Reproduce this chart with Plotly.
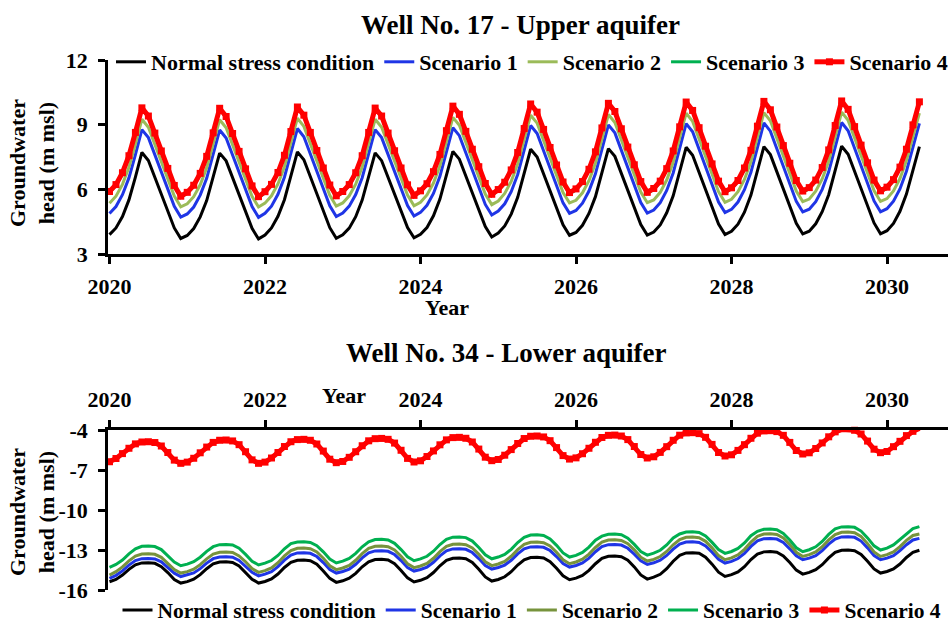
import plotly.graph_objects as go

# Monthly groundwater heads (m msl), January 2020 to June 2030

# ---- Well No. 17, upper aquifer ----
upper_normal = [
    3.90, 4.21, 4.74, 5.51, 6.57, 7.71, 7.34, 6.57, 5.76, 4.98, 4.21, 3.72,
    3.86, 4.18, 4.72, 5.48, 6.55, 7.68, 7.32, 6.55, 5.74, 4.96, 4.19, 3.70,
    3.88, 4.21, 4.75, 5.52, 6.60, 7.74, 7.37, 6.59, 5.77, 4.99, 4.22, 3.73,
    3.89, 4.20, 4.73, 5.50, 6.56, 7.69, 7.33, 6.57, 5.77, 4.99, 4.23, 3.75,
    3.91, 4.23, 4.77, 5.55, 6.63, 7.76, 7.40, 6.63, 5.82, 5.04, 4.27, 3.79,
    3.97, 4.30, 4.85, 5.63, 6.72, 7.86, 7.50, 6.72, 5.91, 5.12, 4.35, 3.87,
    4.00, 4.33, 4.88, 5.66, 6.75, 7.89, 7.53, 6.75, 5.93, 5.14, 4.37, 3.88,
    4.02, 4.35, 4.91, 5.70, 6.80, 7.95, 7.58, 6.80, 5.97, 5.17, 4.39, 3.90,
    4.05, 4.38, 4.94, 5.73, 6.83, 7.98, 7.61, 6.83, 6.00, 5.20, 4.42, 3.93,
    4.06, 4.40, 4.96, 5.75, 6.86, 8.00, 7.63, 6.85, 6.02, 5.22, 4.44, 3.94,
    4.08, 4.42, 4.98, 5.78, 6.89, 7.98,
]
upper_s1 = [
    4.88, 5.20, 5.75, 6.53, 7.61, 8.77, 8.40, 7.61, 6.79, 5.99, 5.21, 4.71,
    4.86, 5.18, 5.73, 6.51, 7.60, 8.75, 8.38, 7.60, 6.78, 5.98, 5.20, 4.70,
    4.89, 5.22, 5.77, 6.56, 7.66, 8.82, 8.44, 7.65, 6.82, 6.02, 5.24, 4.74,
    4.90, 5.22, 5.76, 6.54, 7.62, 8.77, 8.40, 7.62, 6.81, 6.02, 5.25, 4.76,
    4.93, 5.26, 5.81, 6.60, 7.70, 8.86, 8.49, 7.70, 6.88, 6.08, 5.30, 4.81,
    4.99, 5.33, 5.89, 6.69, 7.80, 8.96, 8.59, 7.79, 6.96, 6.16, 5.37, 4.89,
    5.02, 5.36, 5.92, 6.72, 7.83, 8.99, 8.62, 7.82, 6.98, 6.17, 5.39, 4.90,
    5.04, 5.38, 5.95, 6.76, 7.88, 9.05, 8.67, 7.87, 7.02, 6.21, 5.41, 4.92,
    5.07, 5.41, 5.98, 6.79, 7.91, 9.08, 8.70, 7.90, 7.05, 6.24, 5.44, 4.95,
    5.08, 5.43, 6.00, 6.81, 7.94, 9.10, 8.72, 7.92, 7.07, 6.26, 5.46, 4.96,
    5.10, 5.45, 6.02, 6.84, 7.97, 9.06,
]
upper_s2 = [
    5.35, 5.68, 6.23, 7.02, 8.10, 9.25, 8.88, 8.09, 7.27, 6.47, 5.69, 5.19,
    5.33, 5.66, 6.21, 7.00, 8.09, 9.23, 8.86, 8.08, 7.26, 6.46, 5.68, 5.18,
    5.36, 5.70, 6.25, 7.05, 8.15, 9.30, 8.92, 8.13, 7.30, 6.50, 5.72, 5.22,
    5.37, 5.70, 6.24, 7.03, 8.11, 9.25, 8.88, 8.10, 7.29, 6.50, 5.73, 5.24,
    5.40, 5.74, 6.29, 7.09, 8.19, 9.34, 8.97, 8.18, 7.36, 6.56, 5.78, 5.29,
    5.46, 5.81, 6.37, 7.18, 8.29, 9.44, 9.07, 8.27, 7.44, 6.64, 5.85, 5.37,
    5.49, 5.84, 6.40, 7.21, 8.32, 9.47, 9.10, 8.30, 7.46, 6.65, 5.87, 5.38,
    5.51, 5.86, 6.43, 7.25, 8.37, 9.53, 9.15, 8.35, 7.50, 6.69, 5.89, 5.40,
    5.54, 5.89, 6.46, 7.28, 8.40, 9.56, 9.18, 8.38, 7.53, 6.72, 5.92, 5.43,
    5.55, 5.91, 6.48, 7.30, 8.43, 9.58, 9.20, 8.40, 7.55, 6.74, 5.94, 5.44,
    5.57, 5.93, 6.50, 7.33, 8.46, 9.54,
]
upper_s3 = [
    5.85, 6.17, 6.72, 7.51, 8.59, 9.73, 9.35, 8.56, 7.73, 6.92, 6.13, 5.63,
    5.81, 6.14, 6.69, 7.48, 8.57, 9.71, 9.33, 8.54, 7.71, 6.90, 6.11, 5.61,
    5.84, 6.18, 6.73, 7.53, 8.63, 9.77, 9.39, 8.59, 7.75, 6.94, 6.15, 5.65,
    5.85, 6.17, 6.72, 7.51, 8.59, 9.72, 9.35, 8.56, 7.74, 6.94, 6.16, 5.67,
    5.88, 6.21, 6.77, 7.57, 8.67, 9.81, 9.43, 8.64, 7.81, 7.00, 6.22, 5.72,
    5.94, 6.28, 6.85, 7.66, 8.77, 9.91, 9.53, 8.73, 7.89, 7.08, 6.29, 5.80,
    5.97, 6.31, 6.88, 7.69, 8.80, 9.94, 9.56, 8.76, 7.91, 7.09, 6.31, 5.81,
    5.99, 6.33, 6.91, 7.73, 8.85, 10.00, 9.61, 8.81, 7.95, 7.13, 6.33, 5.84,
    6.02, 6.36, 6.94, 7.76, 8.88, 10.03, 9.64, 8.84, 7.98, 7.16, 6.36, 5.87,
    6.03, 6.38, 6.96, 7.78, 8.91, 10.05, 9.66, 8.86, 8.00, 7.18, 6.38, 5.88,
    6.05, 6.40, 6.98, 7.81, 8.94, 10.01,
]
upper_s4 = [
    5.90, 6.22, 6.77, 7.56, 8.64, 9.78, 9.40, 8.61, 7.78, 6.97, 6.18, 5.68,
    5.86, 6.19, 6.74, 7.53, 8.62, 9.76, 9.38, 8.59, 7.76, 6.95, 6.16, 5.66,
    5.89, 6.23, 6.78, 7.58, 8.68, 9.82, 9.44, 8.64, 7.80, 6.99, 6.20, 5.70,
    5.90, 6.22, 6.77, 7.56, 8.64, 9.77, 9.40, 8.61, 7.79, 6.99, 6.21, 5.72,
    5.93, 6.26, 6.82, 7.62, 8.72, 9.86, 9.48, 8.69, 7.86, 7.05, 6.27, 5.77,
    5.99, 6.33, 6.90, 7.71, 8.82, 9.96, 9.58, 8.78, 7.94, 7.13, 6.34, 5.85,
    6.02, 6.36, 6.93, 7.74, 8.85, 9.99, 9.61, 8.81, 7.96, 7.14, 6.36, 5.86,
    6.04, 6.38, 6.96, 7.78, 8.90, 10.05, 9.66, 8.86, 8.00, 7.18, 6.38, 5.89,
    6.07, 6.41, 6.99, 7.81, 8.93, 10.08, 9.69, 8.89, 8.03, 7.21, 6.41, 5.92,
    6.08, 6.43, 7.01, 7.83, 8.96, 10.10, 9.71, 8.91, 8.05, 7.23, 6.43, 5.93,
    6.10, 6.45, 7.03, 7.86, 8.99, 10.06,
]

# ---- Well No. 34, lower aquifer ----
lower_normal = [
    -15.38, -15.21, -14.88, -14.45, -14.11, -13.97, -13.95, -14.00, -14.25, -14.69, -15.21, -15.48,
    -15.37, -15.19, -14.85, -14.40, -14.04, -13.90, -13.88, -13.93, -14.19, -14.66, -15.19, -15.48,
    -15.36, -15.17, -14.80, -14.31, -13.93, -13.77, -13.75, -13.80, -14.07, -14.57, -15.13, -15.43,
    -15.31, -15.12, -14.75, -14.26, -13.88, -13.72, -13.70, -13.75, -14.03, -14.53, -15.09, -15.40,
    -15.27, -15.07, -14.69, -14.18, -13.78, -13.62, -13.60, -13.65, -13.93, -14.44, -15.02, -15.33,
    -15.21, -15.01, -14.63, -14.13, -13.73, -13.57, -13.55, -13.60, -13.87, -14.37, -14.93, -15.23,
    -15.11, -14.91, -14.53, -14.03, -13.63, -13.47, -13.45, -13.50, -13.76, -14.27, -14.87, -15.18,
    -15.04, -14.82, -14.40, -13.84, -13.40, -13.22, -13.20, -13.25, -13.54, -14.06, -14.66, -14.98,
    -14.85, -14.64, -14.25, -13.72, -13.31, -13.14, -13.12, -13.17, -13.44, -13.94, -14.51, -14.81,
    -14.68, -14.48, -14.10, -13.59, -13.18, -13.02, -13.00, -13.05, -13.33, -13.84, -14.42, -14.73,
    -14.61, -14.42, -14.05, -13.56, -13.18, -13.02,
]
lower_s1 = [
    -15.13, -14.90, -14.57, -14.13, -13.79, -13.65, -13.63, -13.67, -13.89, -14.29, -14.74, -14.99,
    -14.88, -14.72, -14.40, -13.98, -13.65, -13.52, -13.50, -13.54, -13.78, -14.20, -14.67, -14.94,
    -14.81, -14.62, -14.25, -13.76, -13.38, -13.22, -13.20, -13.25, -13.49, -13.94, -14.46, -14.73,
    -14.61, -14.43, -14.07, -13.59, -13.22, -13.07, -13.05, -13.10, -13.34, -13.79, -14.31, -14.58,
    -14.46, -14.28, -13.92, -13.44, -13.07, -12.92, -12.90, -12.95, -13.19, -13.64, -14.16, -14.43,
    -14.31, -14.13, -13.77, -13.29, -12.92, -12.77, -12.75, -12.80, -13.04, -13.49, -14.01, -14.28,
    -14.16, -13.97, -13.61, -13.13, -12.75, -12.60, -12.58, -12.63, -12.87, -13.31, -13.81, -14.08,
    -13.96, -13.77, -13.41, -12.93, -12.55, -12.40, -12.38, -12.43, -12.69, -13.16, -13.69, -13.98,
    -13.85, -13.64, -13.25, -12.73, -12.32, -12.15, -12.13, -12.18, -12.44, -12.91, -13.44, -13.73,
    -13.61, -13.42, -13.05, -12.56, -12.18, -12.02, -12.00, -12.05, -12.33, -12.84, -13.42, -13.73,
    -13.61, -13.42, -13.05, -12.60, -12.25, -12.13,
]
lower_s2 = [
    -14.88, -14.62, -14.27, -13.81, -13.45, -13.30, -13.28, -13.32, -13.55, -13.97, -14.46, -14.73,
    -14.62, -14.44, -14.10, -13.66, -13.31, -13.17, -13.15, -13.19, -13.44, -13.88, -14.39, -14.68,
    -14.55, -14.34, -13.95, -13.44, -13.04, -12.87, -12.85, -12.90, -13.15, -13.62, -14.18, -14.47,
    -14.35, -14.15, -13.77, -13.27, -12.88, -12.72, -12.70, -12.75, -13.00, -13.47, -14.03, -14.32,
    -14.20, -14.00, -13.62, -13.12, -12.73, -12.57, -12.55, -12.60, -12.85, -13.32, -13.88, -14.17,
    -14.05, -13.85, -13.47, -12.97, -12.58, -12.42, -12.40, -12.45, -12.70, -13.17, -13.73, -14.03,
    -13.90, -13.69, -13.31, -12.81, -12.41, -12.25, -12.23, -12.28, -12.53, -12.99, -13.54, -13.83,
    -13.70, -13.49, -13.11, -12.61, -12.21, -12.05, -12.03, -12.08, -12.35, -12.84, -13.42, -13.73,
    -13.59, -13.36, -12.95, -12.41, -11.98, -11.80, -11.78, -11.83, -12.10, -12.59, -13.17, -13.48,
    -13.35, -13.14, -12.75, -12.24, -11.84, -11.67, -11.65, -11.70, -11.99, -12.52, -13.14, -13.48,
    -13.35, -13.14, -12.75, -12.28, -11.91, -11.80,
]
lower_s3 = [
    -14.30, -14.08, -13.75, -13.29, -12.92, -12.72, -12.70, -12.74, -12.97, -13.40, -13.90, -14.18,
    -14.06, -13.88, -13.54, -13.10, -12.75, -12.60, -12.58, -12.62, -12.87, -13.33, -13.84, -14.12,
    -13.99, -13.79, -13.41, -12.91, -12.52, -12.40, -12.38, -12.43, -12.68, -13.14, -13.68, -13.97,
    -13.83, -13.63, -13.25, -12.76, -12.38, -12.22, -12.20, -12.25, -12.50, -12.97, -13.51, -13.80,
    -13.67, -13.47, -13.09, -12.59, -12.20, -12.04, -12.02, -12.07, -12.33, -12.81, -13.36, -13.66,
    -13.53, -13.33, -12.95, -12.44, -12.05, -11.88, -11.86, -11.91, -12.17, -12.65, -13.22, -13.53,
    -13.40, -13.18, -12.78, -12.26, -11.96, -11.82, -11.80, -11.85, -12.11, -12.58, -13.11, -13.38,
    -13.24, -13.02, -12.62, -12.10, -11.80, -11.65, -11.63, -11.68, -11.95, -12.43, -12.97, -13.25,
    -13.11, -12.88, -12.47, -11.93, -11.60, -11.45, -11.43, -11.48, -11.76, -12.25, -12.83, -13.13,
    -12.98, -12.76, -12.36, -11.83, -11.42, -11.27, -11.25, -11.30, -11.58, -12.09, -12.69, -13.00,
    -12.86, -12.62, -12.21, -11.75, -11.40, -11.25,
]
lower_s4 = [
    -6.38, -6.14, -5.77, -5.37, -5.04, -4.90, -4.88, -4.94, -5.20, -5.69, -6.26, -6.50,
    -6.41, -6.12, -5.71, -5.28, -4.93, -4.77, -4.75, -4.82, -5.10, -5.63, -6.24, -6.50,
    -6.41, -6.10, -5.69, -5.24, -4.88, -4.72, -4.70, -4.77, -5.05, -5.58, -6.19, -6.45,
    -6.36, -6.05, -5.63, -5.18, -4.81, -4.65, -4.63, -4.70, -4.98, -5.52, -6.13, -6.40,
    -6.31, -5.99, -5.57, -5.11, -4.74, -4.57, -4.55, -4.62, -4.90, -5.43, -6.04, -6.30,
    -6.21, -5.89, -5.47, -5.01, -4.64, -4.47, -4.45, -4.52, -4.80, -5.32, -5.92, -6.18,
    -6.09, -5.78, -5.37, -4.92, -4.56, -4.40, -4.38, -4.45, -4.72, -5.24, -5.84, -6.10,
    -6.01, -5.68, -5.25, -4.77, -4.39, -4.22, -4.20, -4.27, -4.55, -5.08, -5.69, -5.95,
    -5.86, -5.53, -5.10, -4.62, -4.24, -4.07, -4.05, -4.12, -4.40, -4.93, -5.54, -5.80,
    -5.71, -5.39, -4.97, -4.51, -4.14, -3.97, -3.95, -4.02, -4.30, -4.83, -5.44, -5.70,
    -5.61, -5.25, -4.85, -4.42, -4.10, -3.88,
]

# decimal-year time stamps, one per month
years = [2020 + i / 12 for i in range(len(upper_normal))]

series_names = ["Normal stress condition", "Scenario 1", "Scenario 2",
                "Scenario 3", "Scenario 4"]
upper_colors = ["#000000", "#1F35E6", "#9BBB59", "#00B050", "#FF0000"]
lower_colors = ["#000000", "#1F35E6", "#77933C", "#00B050", "#FF0000"]

year_ticks = [2020, 2022, 2024, 2026, 2028, 2030]
upper_ticks = [3, 6, 9, 12]
upper_ticktext = ["3", "6", "9", "12"]
lower_ticks = [-16, -13, -10, -7, -4]
lower_ticktext = ["-16", "-13", "-10", "-7", "-4"]

W, H = 948, 626
FONT = "Liberation Serif"
bold = dict(family=FONT, size=22, color="black", weight="bold")


def px_x(p):
    return p / W


def px_y(p):
    return 1 - p / H


fig = go.Figure()

upper = [upper_normal, upper_s1, upper_s2, upper_s3, upper_s4]
lower = [lower_normal, lower_s1, lower_s2, lower_s3, lower_s4]


def add_series(vals, name, col, xa, ya, leg):
    red = name == "Scenario 4"
    fig.add_trace(go.Scatter(
        x=years, y=vals, name=name, xaxis=xa, yaxis=ya, legend=leg,
        mode="lines+markers" if red else "lines",
        line=dict(color=col, width=5 if red else 3),
        marker=dict(symbol="square", size=7, color=col) if red else None,
        cliponaxis=False,
    ))


for name, vals, col in zip(series_names, upper, upper_colors):
    add_series(vals, name, col, "x", "y", "legend")
for name, vals, col in zip(series_names, lower, lower_colors):
    add_series(vals, name, col, "x2", "y2", "legend2")

x_range = [2020 - 1.5 / 77.75, 2020 + (W - 109.5) / 77.75]
axis_common = dict(
    showgrid=False, zeroline=False, showline=True, linecolor="black",
    linewidth=2.5, ticks="outside", ticklen=7, tickwidth=2.5,
    tickcolor="black", tickfont=bold,
)
legend_common = dict(
    orientation="h", x=px_x(532), xanchor="center", yanchor="middle",
    bgcolor="rgba(0,0,0,0)", itemwidth=30, tracegroupgap=0,
)

fig.update_layout(
    width=W, height=H,
    margin=dict(l=0, r=0, t=0, b=0, autoexpand=False),
    paper_bgcolor="white", plot_bgcolor="white",
    font=dict(family=FONT, color="black"),
    xaxis=dict(domain=[px_x(108), 1], range=x_range, anchor="y",
               tickvals=year_ticks, ticklabelstandoff=4, **axis_common),
    yaxis=dict(domain=[px_y(254), px_y(60)], range=[3, 12], anchor="x",
               tickvals=upper_ticks, ticktext=upper_ticktext,
               ticklabelstandoff=6, **axis_common),
    xaxis2=dict(domain=[px_x(108), 1], range=x_range, anchor="y2",
                side="top", tickvals=year_ticks, ticklabelstandoff=4,
                **axis_common),
    yaxis2=dict(domain=[px_y(590), px_y(430)], range=[-16, -4], anchor="x2",
                tickvals=lower_ticks, ticktext=lower_ticktext,
                ticklabelstandoff=6, **axis_common),
    legend=dict(y=px_y(62),
                font=dict(family=FONT, size=22, color="black", weight="bold"),
                **legend_common),
    legend2=dict(y=px_y(610),
                 font=dict(family=FONT, size=21.5, color="black",
                           weight="bold"),
                 **legend_common),
)

title_font = dict(family=FONT, size=27, color="black", weight="bold")
label_font = dict(family=FONT, size=22, color="black", weight="bold")

annotations = [
    dict(text="Well No. 17 - Upper aquifer", x=px_x(520), y=px_y(25),
         font=title_font),
    dict(text="Well No. 34 - Lower aquifer", x=px_x(506), y=px_y(353),
         font=title_font),
    dict(text="Year", x=px_x(447), y=px_y(308), font=label_font),
    dict(text="Year", x=px_x(344), y=px_y(395), font=label_font),
    dict(text="Groundwater<br>head (m msl)", x=px_x(32), y=px_y(163),
         textangle=-90, font=label_font),
    dict(text="Groundwater<br>head (m msl)", x=px_x(32), y=px_y(512),
         textangle=-90, font=label_font),
]
for a in annotations:
    fig.add_annotation(xref="paper", yref="paper", showarrow=False,
                       xanchor="center", yanchor="middle", **a)

fig.write_html("out.html")
